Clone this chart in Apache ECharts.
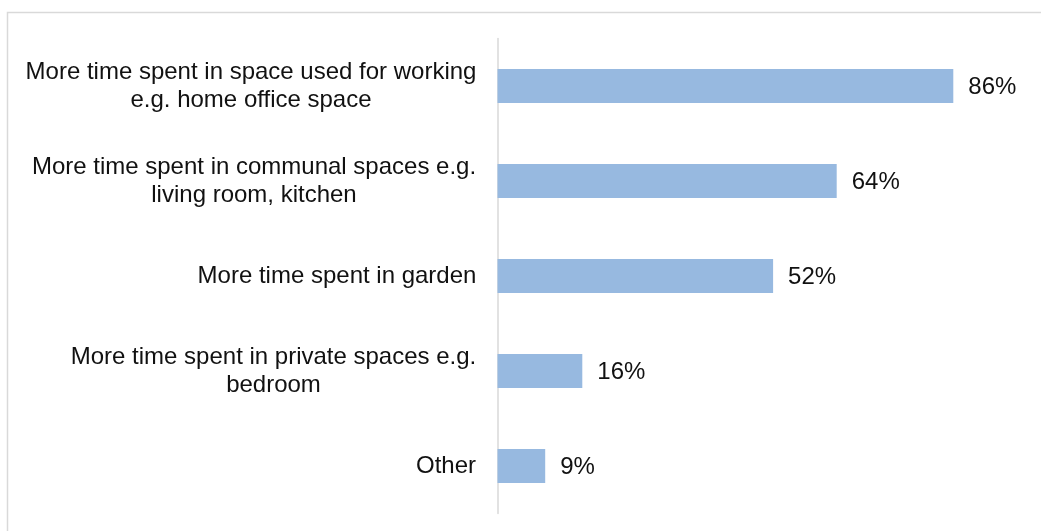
<!DOCTYPE html>
<html>
<head>
<meta charset="utf-8">
<script src="https://cdn.jsdelivr.net/npm/echarts@6/dist/echarts.min.js"></script>
<style>
  html, body { margin: 0; padding: 0; background: #fff; }
  #chart { width: 1041px; height: 531px; }
</style>
</head>
<body>
<div id="chart"></div>
<script>
// Where people spent more time at home
const categories = [
  'More time spent in space used for working\ne.g. home office space',
  'More time spent in communal spaces e.g.\nliving room, kitchen',
  'More time spent in garden',
  'More time spent in private spaces e.g.\nbedroom',
  'Other'
];
const values = [86, 64, 52, 16, 9];

const FONT_FAMILY = 'Liberation Sans, Arial, sans-serif';
const FONT_SIZE = 24;
const TEXT_COLOR = '#111';

// Measure each label's widest line so wrapped lines can be centred
// inside a right-aligned block.
const ctx = document.createElement('canvas').getContext('2d');
ctx.font = FONT_SIZE + 'px "Liberation Sans", Arial, sans-serif';
const labelRich = {};
categories.forEach((c, i) => {
  const w = Math.max(...c.split('\n').map(l => ctx.measureText(l).width));
  labelRich['c' + i] = {
    width: Math.ceil(w),
    align: 'center',
    fontSize: FONT_SIZE,
    lineHeight: 28,
    fontFamily: FONT_FAMILY,
    color: TEXT_COLOR
  };
});

const chart = echarts.init(document.getElementById('chart'));
chart.setOption({
  animation: false,
  graphic: [{
    type: 'polyline',
    shape: { points: [[7.5, 531], [7.5, 12.5], [1041, 12.5]] },
    style: { stroke: '#d9d9d9', lineWidth: 1.5, fill: null },
    silent: true
  }],
  grid: { left: 497.5, right: 13.5, top: 38.5, bottom: 17.5, containLabel: false },
  xAxis: {
    type: 'value',
    min: 0,
    max: 100,
    show: false
  },
  yAxis: {
    type: 'category',
    inverse: true,
    data: categories,
    axisLine: { show: true, lineStyle: { color: '#d9d9d9', width: 1.5 } },
    axisTick: { show: false },
    axisLabel: {
      margin: 21,
      align: 'right',
      fontSize: FONT_SIZE,
      fontFamily: FONT_FAMILY,
      color: TEXT_COLOR,
      lineHeight: 28,
      formatter: (v, i) => v.split('\n').map(l => '{c' + i + '|' + l + '}').join('\n'),
      rich: labelRich
    }
  },
  series: [{
    type: 'bar',
    data: values,
    barWidth: 34,
    itemStyle: { color: '#97b9e0' },
    label: {
      show: true,
      position: 'right',
      distance: 15,
      offset: [0, 1],
      formatter: '{c}%',
      color: TEXT_COLOR,
      fontFamily: FONT_FAMILY,
      fontSize: FONT_SIZE
    }
  }]
});
</script>
</body>
</html>
